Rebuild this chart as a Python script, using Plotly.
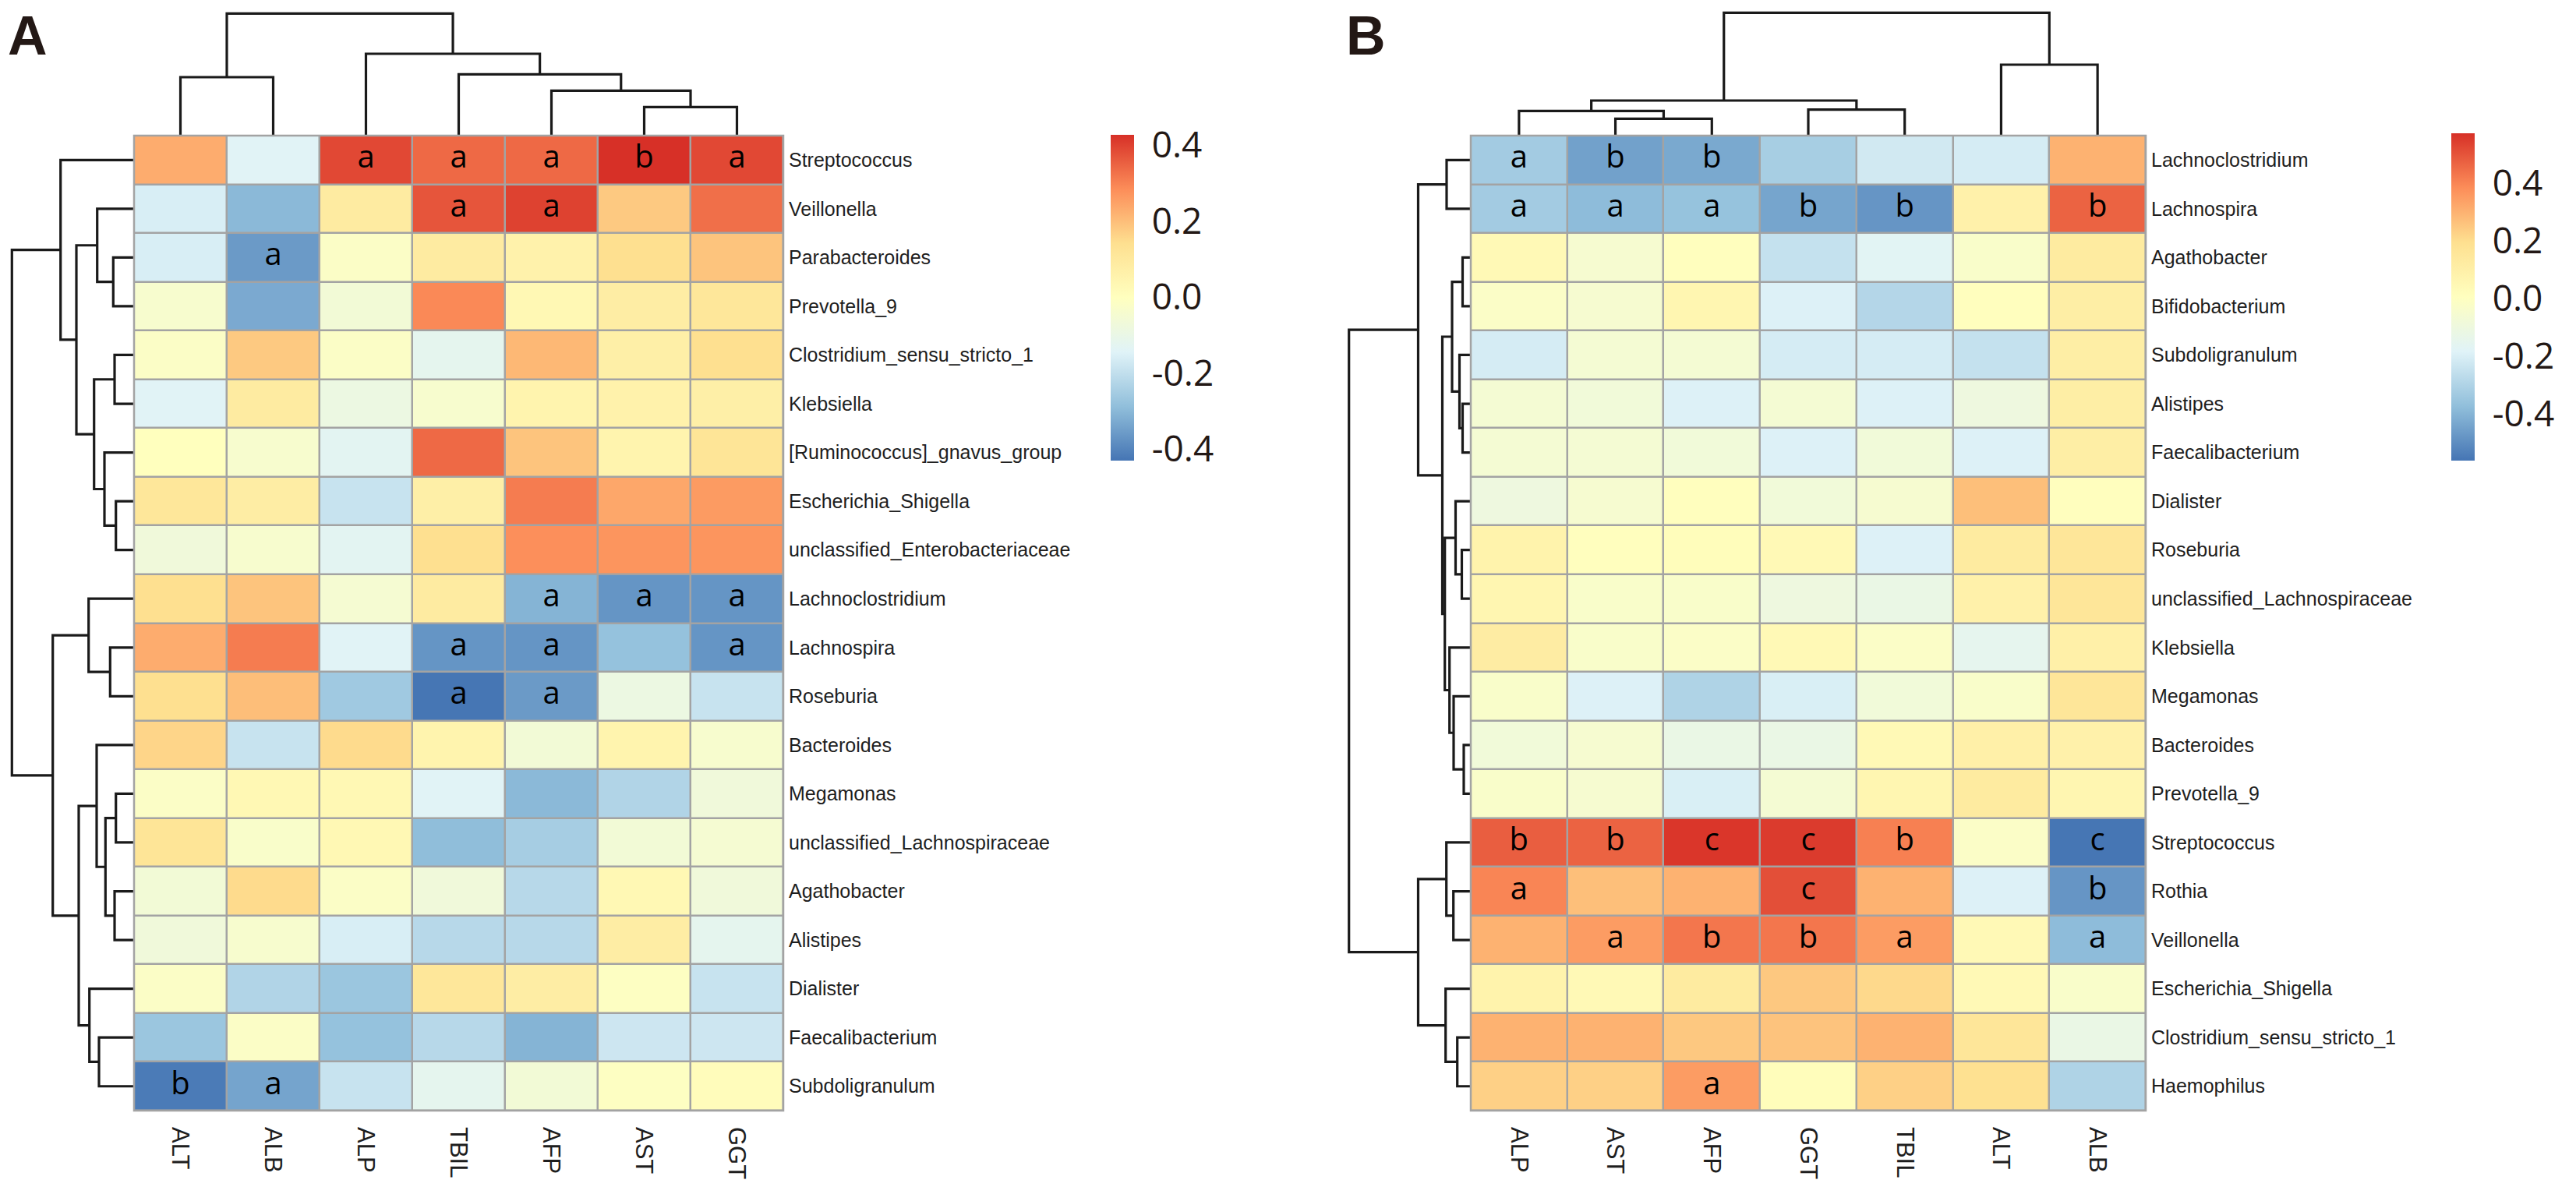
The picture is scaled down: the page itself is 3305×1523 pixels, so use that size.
import plotly.graph_objects as go

W, H = 3305, 1523

# ---------------- Panel A data ----------------
cols_A = ["ALT", "ALB", "ALP", "TBIL", "AFP", "AST", "GGT"]
rows_A = ["Streptococcus", "Veillonella", "Parabacteroides", "Prevotella_9",
          "Clostridium_sensu_stricto_1", "Klebsiella", "[Ruminococcus]_gnavus_group",
          "Escherichia_Shigella", "unclassified_Enterobacteriaceae", "Lachnoclostridium",
          "Lachnospira", "Roseburia", "Bacteroides", "Megamonas",
          "unclassified_Lachnospiraceae", "Agathobacter", "Alistipes", "Dialister",
          "Faecalibacterium", "Subdoligranulum"]
vals_A = [
    [0.23, -0.14, 0.39, 0.34, 0.34, 0.43, 0.39],
    [-0.16, -0.30, 0.09, 0.37, 0.40, 0.18, 0.33],
    [-0.16, -0.36, -0.02, 0.09, 0.06, 0.14, 0.19],
    [-0.04, -0.33, -0.06, 0.29, 0.03, 0.08, 0.11],
    [-0.02, 0.18, -0.02, -0.12, 0.21, 0.07, 0.14],
    [-0.14, 0.09, -0.09, -0.04, 0.05, 0.06, 0.07],
    [0.00, -0.04, -0.13, 0.34, 0.19, 0.05, 0.12],
    [0.11, 0.08, -0.19, 0.07, 0.31, 0.24, 0.26],
    [-0.07, -0.04, -0.13, 0.14, 0.28, 0.27, 0.27],
    [0.14, 0.19, -0.05, 0.09, -0.31, -0.37, -0.37],
    [0.23, 0.31, -0.14, -0.37, -0.37, -0.28, -0.37],
    [0.14, 0.20, -0.26, -0.43, -0.36, -0.09, -0.19],
    [0.16, -0.19, 0.15, 0.05, -0.06, 0.05, -0.04],
    [-0.02, 0.03, 0.03, -0.14, -0.30, -0.23, -0.07],
    [0.12, -0.03, 0.03, -0.29, -0.25, -0.06, -0.05],
    [-0.06, 0.15, -0.02, -0.07, -0.22, 0.03, -0.07],
    [-0.07, -0.04, -0.16, -0.22, -0.22, 0.08, -0.12],
    [-0.02, -0.23, -0.27, 0.11, 0.08, -0.01, -0.19],
    [-0.27, -0.02, -0.28, -0.22, -0.31, -0.18, -0.18],
    [-0.42, -0.34, -0.19, -0.12, -0.06, -0.01, 0.01],
]
sig_A = [
    ("Streptococcus", "ALP", "a"), ("Streptococcus", "TBIL", "a"), ("Streptococcus", "AFP", "a"),
    ("Streptococcus", "AST", "b"), ("Streptococcus", "GGT", "a"),
    ("Veillonella", "TBIL", "a"), ("Veillonella", "AFP", "a"),
    ("Parabacteroides", "ALB", "a"),
    ("Lachnoclostridium", "AFP", "a"), ("Lachnoclostridium", "AST", "a"), ("Lachnoclostridium", "GGT", "a"),
    ("Lachnospira", "TBIL", "a"), ("Lachnospira", "AFP", "a"), ("Lachnospira", "GGT", "a"),
    ("Roseburia", "TBIL", "a"), ("Roseburia", "AFP", "a"),
    ("Subdoligranulum", "ALT", "b"), ("Subdoligranulum", "ALB", "a"),
]
# merges: [left id, right id, height]; leaves are 0..n-1, merge k gets id n+k
col_tree_A = [[0, 1, 75], [5, 6, 36.7], [4, 8, 57.7], [3, 9, 78.7], [2, 10, 105], [7, 11, 156.7]]
row_tree_A = [
    [2, 3, 26.7], [1, 20, 47.3], [4, 5, 25], [7, 8, 23.3], [6, 23, 38], [22, 24, 51.3],
    [21, 25, 74], [0, 26, 94.3], [10, 11, 30.7], [9, 28, 58.3], [13, 14, 23.3], [15, 16, 25],
    [30, 31, 36.7], [12, 32, 48], [18, 19, 45], [17, 34, 57.3], [33, 35, 71], [29, 36, 104.3],
    [27, 37, 156.7],
]
zrange_A = [-0.431, 0.427]

# ---------------- Panel B data ----------------
cols_B = ["ALP", "AST", "AFP", "GGT", "TBIL", "ALT", "ALB"]
rows_B = ["Lachnoclostridium", "Lachnospira", "Agathobacter", "Bifidobacterium",
          "Subdoligranulum", "Alistipes", "Faecalibacterium", "Dialister", "Roseburia",
          "unclassified_Lachnospiraceae", "Klebsiella", "Megamonas", "Bacteroides",
          "Prevotella_9", "Streptococcus", "Rothia", "Veillonella", "Escherichia_Shigella",
          "Clostridium_sensu_stricto_1", "Haemophilus"]
vals_B = [
    [-0.33, -0.45, -0.43, -0.32, -0.22, -0.21, 0.30],
    [-0.33, -0.38, -0.36, -0.44, -0.48, 0.09, 0.47],
    [0.04, -0.05, 0.01, -0.25, -0.17, -0.03, 0.13],
    [-0.02, -0.05, 0.06, -0.19, -0.29, 0.01, 0.11],
    [-0.21, -0.06, -0.06, -0.21, -0.21, -0.25, 0.11],
    [-0.06, -0.08, -0.19, -0.06, -0.19, -0.10, 0.11],
    [-0.06, -0.06, -0.08, -0.19, -0.08, -0.19, 0.11],
    [-0.10, -0.05, 0.01, -0.08, -0.05, 0.27, 0.01],
    [0.08, 0.01, 0.02, 0.04, -0.19, 0.13, 0.16],
    [0.06, -0.03, -0.03, -0.10, -0.12, 0.09, 0.16],
    [0.12, -0.03, -0.02, 0.04, -0.02, -0.15, 0.10],
    [-0.03, -0.19, -0.30, -0.20, -0.08, -0.03, 0.16],
    [-0.08, -0.05, -0.12, -0.12, 0.04, 0.10, 0.09],
    [-0.03, -0.05, -0.20, -0.06, 0.06, 0.13, 0.06],
    [0.48, 0.47, 0.56, 0.55, 0.41, -0.02, -0.56],
    [0.40, 0.27, 0.30, 0.51, 0.30, -0.19, -0.48],
    [0.30, 0.35, 0.43, 0.43, 0.35, 0.04, -0.38],
    [0.08, 0.04, 0.13, 0.25, 0.21, 0.04, -0.03],
    [0.30, 0.30, 0.25, 0.26, 0.30, 0.16, -0.12],
    [0.23, 0.23, 0.35, 0.02, 0.23, 0.19, -0.30],
]
sig_B = [
    ("Lachnoclostridium", "ALP", "a"), ("Lachnoclostridium", "AST", "b"), ("Lachnoclostridium", "AFP", "b"),
    ("Lachnospira", "ALP", "a"), ("Lachnospira", "AST", "a"), ("Lachnospira", "AFP", "a"),
    ("Lachnospira", "GGT", "b"), ("Lachnospira", "TBIL", "b"), ("Lachnospira", "ALB", "b"),
    ("Streptococcus", "ALP", "b"), ("Streptococcus", "AST", "b"), ("Streptococcus", "AFP", "c"),
    ("Streptococcus", "GGT", "c"), ("Streptococcus", "TBIL", "b"), ("Streptococcus", "ALB", "c"),
    ("Rothia", "ALP", "a"), ("Rothia", "GGT", "c"), ("Rothia", "ALB", "b"),
    ("Veillonella", "AST", "a"), ("Veillonella", "AFP", "b"), ("Veillonella", "GGT", "b"),
    ("Veillonella", "TBIL", "a"), ("Veillonella", "ALB", "a"),
    ("Haemophilus", "AFP", "a"),
]
col_tree_B = [[1, 2, 21.7], [0, 7, 31.7], [3, 4, 33.3], [8, 9, 45], [5, 6, 91], [10, 11, 157.7]]
row_tree_B = [
    [0, 1, 31], [2, 3, 10.5], [5, 6, 10.5], [4, 22, 14.5], [21, 23, 24], [8, 9, 11.5],
    [7, 25, 19.5], [12, 13, 9], [11, 27, 22], [10, 28, 27.3], [26, 29, 33.3], [24, 30, 36.5],
    [20, 31, 67.5], [15, 16, 22.3], [14, 33, 31.3], [18, 19, 17.3], [17, 35, 32.3],
    [34, 36, 67.5], [32, 37, 156.3],
]
zrange_B = [-0.562, 0.573]

cb_ticks = [-0.4, -0.2, 0.0, 0.2, 0.4]
cb_ticktext = ["-0.4", "-0.2", "0.0", "0.2", "0.4"]

colorscale = [[0, "#4575B4"], [1 / 6, "#91BFDB"], [2 / 6, "#E0F3F8"], [3 / 6, "#FFFFBF"],
              [4 / 6, "#FEE090"], [5 / 6, "#FC8D59"], [1, "#D73027"]]

LABEL_FONT = "Liberation Sans, Arial, Helvetica, sans-serif"
NUM_FONT = "Open Sans, Noto Sans, sans-serif"
TXT = "#1e1e1e"
GRID = "#A3A3A3"
LINE = "#1a1a1a"


def px(x):
    return x / W


def py(y):
    return 1 - y / H


def dendro(n, merges):
    pos = {i: float(i) for i in range(n)}
    hgt = {i: 0.0 for i in range(n)}
    P, Hs = [], []
    for k, (a, b, h) in enumerate(merges):
        P += [pos[a], pos[a], pos[b], pos[b], None]
        Hs += [hgt[a], h, h, hgt[b], None]
        pos[n + k] = (pos[a] + pos[b]) / 2
        hgt[n + k] = h
    return P, Hs


fig = go.Figure()
layout = dict(width=W, height=H, margin=dict(l=0, r=0, t=0, b=0, autoexpand=False),
              paper_bgcolor="white", plot_bgcolor="rgba(0,0,0,0)", showlegend=False,
              shapes=[], annotations=[])

panels = [
    dict(cols=cols_A, rows=rows_A, vals=vals_A, sig=sig_A, ct=col_tree_A, rt=row_tree_A,
         zr=zrange_A, hx=(164, 997), rdx=(0, 164), cb=(1417, 165, 418), label="A", lx=0, ax=1),
    dict(cols=cols_B, rows=rows_B, vals=vals_B, sig=sig_B, ct=col_tree_B, rt=row_tree_B,
         zr=zrange_B, hx=(1879, 2745), rdx=(1715, 1879), cb=(3137, 163, 420), label="B", lx=1717, ax=4),
]
top, bot = 166, 1417

for p in panels:
    i = p["ax"]
    xh, yh = f"x{'' if i == 1 else i}", f"y{'' if i == 1 else i}"
    xc, yc = f"x{i + 1}", f"y{i + 1}"
    xr, yr = f"x{i + 2}", f"y{i + 2}"
    nc, nr = len(p["cols"]), len(p["rows"])

    cbx, cby, cbl = p["cb"]
    fig.add_trace(go.Heatmap(
        z=p["vals"], x=p["cols"], y=p["rows"], colorscale=colorscale,
        zmin=p["zr"][0], zmax=p["zr"][1], xgap=2.5, ygap=2.5,
        xaxis=xh, yaxis=yh, hoverinfo="skip",
        colorbar=dict(x=px(cbx), xanchor="left", xpad=0, y=py(cby), yanchor="top", ypad=0,
                      len=cbl, lenmode="pixels", thickness=30, thicknessmode="pixels",
                      outlinewidth=0, tickvals=cb_ticks, ticktext=cb_ticktext,
                      ticks="outside", ticklen=14, tickcolor="rgba(0,0,0,0)",
                      tickfont=dict(family=NUM_FONT, size=46, color="#231815"))))
    fig.add_trace(go.Scatter(
        x=[s[1] for s in p["sig"]], y=[s[0] for s in p["sig"]], text=[s[2] for s in p["sig"]],
        mode="text", textfont=dict(family=NUM_FONT, size=40, color="black"),
        xaxis=xh, yaxis=yh, hoverinfo="skip"))

    cx, ch = dendro(nc, p["ct"])
    fig.add_trace(go.Scatter(x=cx, y=ch, mode="lines", line=dict(color=LINE, width=3.2),
                             xaxis=xc, yaxis=yc, hoverinfo="skip"))
    rx, rh = dendro(nr, p["rt"])
    fig.add_trace(go.Scatter(x=rh, y=rx, mode="lines", line=dict(color=LINE, width=3.2),
                             xaxis=xr, yaxis=yr, hoverinfo="skip"))

    hxd = [px(p["hx"][0]), px(p["hx"][1])]
    hyd = [py(bot), py(top)]
    ka = "xaxis" if i == 1 else f"xaxis{i}"
    kb = "yaxis" if i == 1 else f"yaxis{i}"
    layout[ka] = dict(domain=hxd, anchor=yh, side="bottom", tickangle=90,
                      tickfont=dict(family=LABEL_FONT, size=31, color=TXT),
                      showgrid=False, zeroline=False, showline=False, ticks="",
                      ticklabelstandoff=20, categoryorder="array", categoryarray=p["cols"],
                      range=[-0.5, nc - 0.5])
    layout[kb] = dict(domain=hyd, anchor=xh, side="right",
                      tickfont=dict(family=LABEL_FONT, size=25, color=TXT),
                      showgrid=False, zeroline=False, showline=False, ticks="",
                      ticklabelstandoff=6, categoryorder="array", categoryarray=p["rows"],
                      range=[nr - 0.5, -0.5])
    layout[f"xaxis{i + 1}"] = dict(domain=hxd, anchor=yc, range=[-0.5, nc - 0.5], visible=False)
    layout[f"yaxis{i + 1}"] = dict(domain=[py(top), 1.0], anchor=xc, range=[0, top], visible=False)
    layout[f"xaxis{i + 2}"] = dict(domain=[px(p["rdx"][0]), px(p["rdx"][1])], anchor=yr,
                                   range=[p["rdx"][1] - p["rdx"][0], 0], visible=False)
    layout[f"yaxis{i + 2}"] = dict(domain=hyd, anchor=xr, range=[nr - 0.5, -0.5], visible=False)

    layout["shapes"].append(dict(type="rect", xref=f"{xh} domain", yref=f"{yh} domain",
                                 x0=0, x1=1, y0=0, y1=1, fillcolor=GRID, line=dict(width=0),
                                 layer="below"))
    layout["shapes"].append(dict(type="rect", xref=f"{xh} domain", yref=f"{yh} domain",
                                 x0=0, x1=1, y0=0, y1=1, fillcolor="rgba(0,0,0,0)",
                                 line=dict(width=2.5, color=GRID), layer="above"))
    layout["annotations"].append(dict(text=p["label"], x=px(p["lx"]), y=1, xref="paper",
                                      yref="paper", xanchor="left", yanchor="top", yshift=3,
                                      showarrow=False,
                                      font=dict(family=LABEL_FONT, size=70, color="#231815",
                                                weight="bold")))

fig.update_layout(**layout)
fig.write_html("out.html")
